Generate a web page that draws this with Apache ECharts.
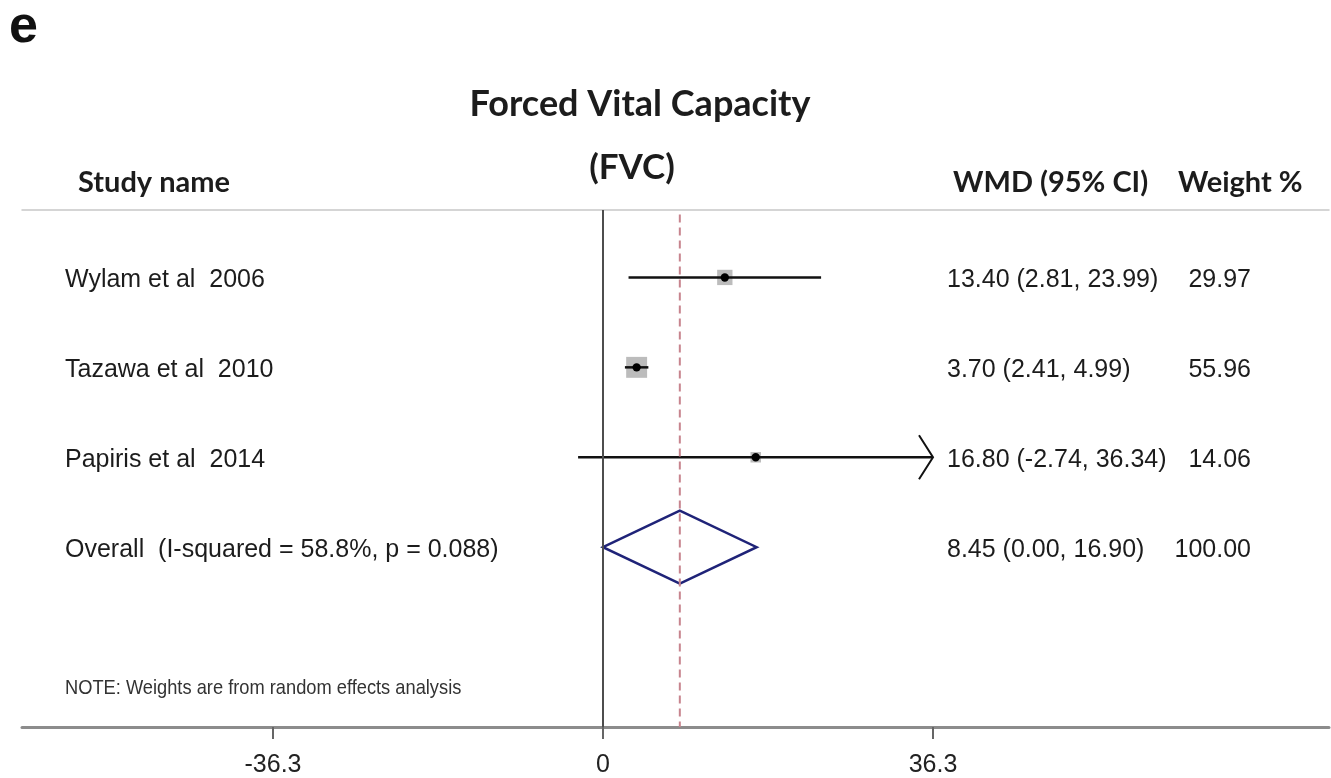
<!DOCTYPE html>
<html>
<head>
<meta charset="utf-8">
<script src="https://cdn.jsdelivr.net/npm/echarts@6/dist/echarts.min.js"></script>
<style>
  html, body { margin: 0; padding: 0; background: #ffffff; }
  #chart { width: 1331px; height: 778px; }
</style>
</head>
<body>
<div id="chart"></div>
<script>
// Forest plot of weighted mean differences in FVC
const studies   = ['Wylam et al  2006', 'Tazawa et al  2010', 'Papiris et al  2014'];
const estimates = [13.40, 3.70, 16.80];
const lowerCI   = [2.81, 2.41, -2.74];
const upperCI   = [23.99, 4.99, 36.34];
const weights   = [29.97, 55.96, 14.06];

const overallLabel  = 'Overall  (I-squared = 58.8%, p = 0.088)';
const overallEst    = 8.45;
const overallLower  = 0.00;
const overallUpper  = 16.90;
const overallWeight = 100.00;

const tickValues = [-36.3, 0, 36.3];

// plotting window for the intervals (longer CIs end in an arrow)
const CLIP_LO = -36.3, CLIP_HI = 36.3;
// full extent of the bottom axis line
const X_MIN = -63.91, X_MAX = 79.86;

const NAME_X = 65, WMD_X = 947, WEIGHT_RIGHT_X = 1251, TEXT_DY = 3;
const BODY_FONT = 'Liberation Sans, Arial, sans-serif';
const HEAD_FONT = 'Lato, "Open Sans", sans-serif';
const TEXT_COLOR = '#1c1c1c';
const BOX_SCALE = 2.8;

const fmt = v => v.toFixed(2);
const ciText = (e, l, h) => fmt(e) + ' (' + fmt(l) + ', ' + fmt(h) + ')';

function rowTexts(name, e, l, h, w, y) {
  const ty = y + TEXT_DY;
  return [
    { type: 'text', x: NAME_X, y: ty,
      style: { text: name, fontSize: 25, fontFamily: BODY_FONT, fill: TEXT_COLOR, align: 'left', verticalAlign: 'middle' } },
    { type: 'text', x: WMD_X, y: ty,
      style: { text: ciText(e, l, h), fontSize: 25, fontFamily: BODY_FONT, fill: TEXT_COLOR, align: 'left', verticalAlign: 'middle' } },
    { type: 'text', x: WEIGHT_RIGHT_X, y: ty,
      style: { text: fmt(w), fontSize: 25, fontFamily: BODY_FONT, fill: TEXT_COLOR, align: 'right', verticalAlign: 'middle' } }
  ];
}

function renderStudy(params, api) {
  const i = params.dataIndex;
  const lo = api.value(0), hi = api.value(1), est = api.value(2), row = api.value(3), w = api.value(4);
  const y = api.coord([0, row])[1];
  const xl = api.coord([Math.max(lo, CLIP_LO), row])[0];
  const xh = api.coord([Math.min(hi, CLIP_HI), row])[0];
  const xe = api.coord([est, row])[0];
  const side = BOX_SCALE * Math.sqrt(w);
  const children = [
    { type: 'rect', shape: { x: xe - side / 2, y: y - side / 2, width: side, height: side },
      style: { fill: '#bcbcbc' } },
    { type: 'line', shape: { x1: xl, y1: y, x2: xh, y2: y },
      style: { stroke: '#111111', lineWidth: 2.5 } },
    { type: 'circle', shape: { cx: xe, cy: y, r: 4.2 }, style: { fill: '#000000' } }
  ];
  if (hi > CLIP_HI) {
    children.push({ type: 'polyline', shape: { points: [[xh - 14, y - 22], [xh, y], [xh - 14, y + 22]] },
      style: { stroke: '#111111', lineWidth: 2, fill: null } });
  }
  if (lo < CLIP_LO) {
    children.push({ type: 'polyline', shape: { points: [[xl + 14, y - 22], [xl, y], [xl + 14, y + 22]] },
      style: { stroke: '#111111', lineWidth: 2, fill: null } });
  }
  return { type: 'group', children: children.concat(rowTexts(studies[i], est, lo, hi, w, y)) };
}

function renderOverall(params, api) {
  const lo = api.value(0), hi = api.value(1), est = api.value(2), row = api.value(3), w = api.value(4);
  const y = api.coord([0, row])[1];
  const xl = api.coord([lo, row])[0];
  const xh = api.coord([hi, row])[0];
  const xe = api.coord([est, row])[0];
  const h = 36.5;
  return {
    type: 'group',
    children: [
      { type: 'polygon', shape: { points: [[xl, y], [xe, y - h], [xh, y], [xe, y + h]] },
        style: { stroke: '#1f2378', lineWidth: 2.5, fill: null } }
    ].concat(rowTexts(overallLabel, est, lo, hi, w, y))
  };
}

const studyData = studies.map((s, i) => [lowerCI[i], upperCI[i], estimates[i], i + 1, weights[i]]);
const overallData = [[overallLower, overallUpper, overallEst, studies.length + 1, overallWeight]];

const chart = echarts.init(document.getElementById('chart'), null, { renderer: 'canvas' });
chart.setOption({
  animation: false,
  backgroundColor: '#ffffff',
  grid: { left: 22, right: 2, top: 210, bottom: 48 },
  xAxis: [
    {
      type: 'value', min: X_MIN, max: X_MAX, position: 'bottom',
      axisLine: { show: true, onZero: false, lineStyle: { color: '#8c8c8c', width: 3 } },
      axisTick: { show: true, length: 12, customValues: tickValues, lineStyle: { color: '#666666', width: 2 } },
      axisLabel: { customValues: tickValues, fontSize: 25, fontFamily: BODY_FONT, color: '#222222', margin: 26,
        formatter: v => String(v) },
      splitLine: { show: false }
    },
    {
      type: 'value', min: X_MIN, max: X_MAX, position: 'top',
      axisLine: { show: true, onZero: false, lineStyle: { color: '#c8c8c8', width: 1.5 } },
      axisTick: { show: false }, axisLabel: { show: false }, splitLine: { show: false }
    }
  ],
  yAxis: { type: 'value', inverse: true, min: 0.25, max: 6, show: false },
  series: [
    { type: 'line', silent: true, symbol: 'none', data: [[0, 0.25], [0, 6]],
      lineStyle: { color: '#4d4d4d', width: 2 } },
    { type: 'line', silent: true, symbol: 'none', data: [[overallEst, 0.3], [overallEst, 6]],
      lineStyle: { color: '#c7848e', width: 2, type: [8, 5] } },
    { type: 'custom', silent: true, renderItem: renderStudy, data: studyData },
    { type: 'custom', silent: true, renderItem: renderOverall, data: overallData }
  ],
  graphic: [
    { type: 'text', x: 9, y: 28,
      style: { text: 'e', fontSize: 52, fontWeight: 'bold', fontFamily: BODY_FONT, fill: '#111111', align: 'left', verticalAlign: 'middle' } },
    { type: 'text', x: 640, y: 104,
      style: { text: 'Forced Vital Capacity', fontSize: 36, fontWeight: 'bold', fontFamily: HEAD_FONT, fill: TEXT_COLOR, align: 'center', verticalAlign: 'middle' } },
    { type: 'text', x: 632, y: 168,
      style: { text: '(FVC)', fontSize: 35, fontWeight: 'bold', fontFamily: HEAD_FONT, fill: TEXT_COLOR, align: 'center', verticalAlign: 'middle' } },
    { type: 'text', x: 78, y: 183,
      style: { text: 'Study name', fontSize: 29, fontWeight: 'bold', fontFamily: HEAD_FONT, fill: TEXT_COLOR, align: 'left', verticalAlign: 'middle' } },
    { type: 'text', x: 953, y: 183,
      style: { text: 'WMD (95% CI)', fontSize: 29, fontWeight: 'bold', fontFamily: HEAD_FONT, fill: TEXT_COLOR, align: 'left', verticalAlign: 'middle' } },
    { type: 'text', x: 1178, y: 183,
      style: { text: 'Weight %', fontSize: 29, fontWeight: 'bold', fontFamily: HEAD_FONT, fill: TEXT_COLOR, align: 'left', verticalAlign: 'middle' } },
    { type: 'text', x: 65, y: 688, scaleX: 0.87, originX: 0, originY: 0,
      style: { text: 'NOTE: Weights are from random effects analysis', fontSize: 21, fontFamily: BODY_FONT, fill: '#333333', align: 'left', verticalAlign: 'middle' } }
  ]
});
</script>
</body>
</html>
